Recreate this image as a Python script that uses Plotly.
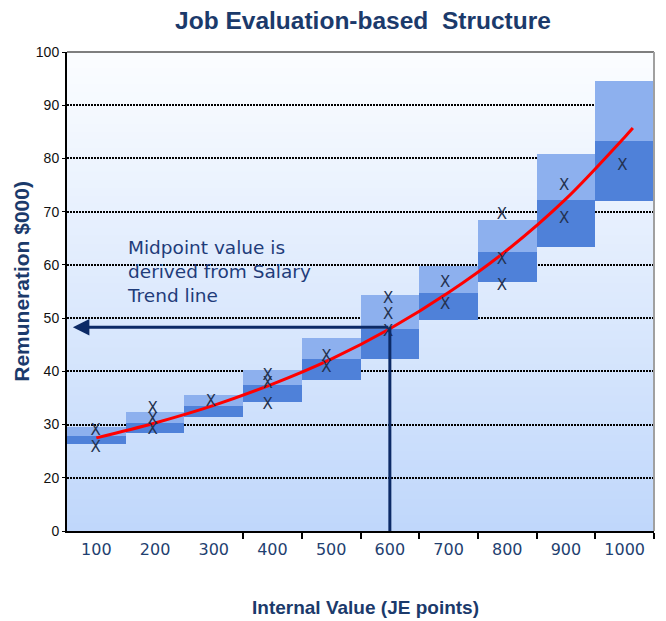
import plotly.graph_objects as go

# ---- data ----
grades = [100, 200, 300, 400, 500, 600, 700, 800, 900, 1000]
range_min = [26.3, 28.5, 31.5, 34.3, 38.4, 42.3, 49.7, 56.8, 63.4, 72.0]
range_mid = [27.9, 30.3, 33.4, 37.5, 42.4, 48.0, 54.8, 62.4, 72.1, 83.3]
range_max = [29.6, 32.4, 35.6, 40.3, 46.2, 54.4, 59.7, 68.4, 80.9, 94.6]

trend_x = [100, 200, 300, 400, 500, 600, 700, 800, 900, 1000, 1014]
trend_y = [27.5, 30.3, 33.6, 37.6, 42.3, 48.0, 54.8, 62.8, 72.4, 84.0, 85.7]

jobs_x = [99, 99, 196, 196, 196, 295, 392, 392, 392, 492, 492,
          597, 597, 597, 694, 694, 791, 791, 791, 897, 897, 996]
jobs_y = [28.8, 25.6, 32.8, 30.9, 28.9, 34.1, 39.0, 37.5, 33.7, 42.6, 40.5,
          53.5, 50.5, 47.3, 56.5, 52.5, 69.3, 60.8, 56.0, 74.8, 68.6, 78.5]

y_ticks = [10, 20, 30, 40, 50, 60, 70, 80, 90, 100]
y_labels = ["0", "20", "30", "40", "50", "60", "70", "80", "90", "100"]
x_labels = [str(g) for g in grades]
x_bounds = [350, 450, 550, 650, 750, 850, 950, 1050]

midpoint_grade = 600
midpoint_value = 48.3

navy = "#1b3a6b"
line_navy = "#0c2a66"

fig = go.Figure()

fig.add_trace(go.Bar(
    x=grades, y=[m - l for m, l in zip(range_mid, range_min)], base=range_min,
    width=100, marker=dict(color="#4f81d9", line=dict(width=0)),
    hoverinfo="skip", showlegend=False))
fig.add_trace(go.Bar(
    x=grades, y=[t - m for t, m in zip(range_max, range_mid)], base=range_mid,
    width=100, marker=dict(color="#8db0ee", line=dict(width=0)),
    hoverinfo="skip", showlegend=False))

fig.add_trace(go.Scatter(
    x=trend_x, y=trend_y, mode="lines", line=dict(color="#ff0000", width=3, shape="spline"),
    hoverinfo="skip", showlegend=False))

fig.add_trace(go.Scatter(
    x=jobs_x, y=jobs_y, mode="text", text=["X"] * len(jobs_x),
    textposition="middle center",
    textfont=dict(family="DejaVu Sans", size=15, color="#243250"),
    hoverinfo="skip", showlegend=False))

# background gradient
shapes = []
n = 60
top_c = (0xfb, 0xfd, 0xff)
bot_c = (0xc0, 0xd7, 0xfb)
for i in range(n):
    t = (i + 0.5) / n
    c = tuple(round(top_c[k] + (bot_c[k] - top_c[k]) * t) for k in range(3))
    shapes.append(dict(type="rect", xref="paper", yref="paper",
                       x0=0, x1=1, y1=1 - i / n, y0=1 - (i + 1) / n - 0.002,
                       fillcolor="rgb(%d,%d,%d)" % c, line=dict(width=0), layer="below"))
# frame: top and right in grey
shapes.append(dict(type="line", xref="paper", yref="paper", x0=0, x1=1, y0=1, y1=1,
                   line=dict(color="#7f7f7f", width=2), layer="above"))
shapes.append(dict(type="line", xref="paper", yref="paper", x0=1, x1=1, y0=0, y1=1,
                   line=dict(color="#a0a0a0", width=2), layer="above"))
# vertical drop line at the midpoint
shapes.append(dict(type="line", xref="x", yref="y", x0=midpoint_grade, x1=midpoint_grade,
                   y0=y_ticks[0], y1=midpoint_value,
                   line=dict(color=line_navy, width=3), layer="above"))

annotations = [
    dict(x=60, y=midpoint_value, ax=midpoint_grade, ay=midpoint_value,
         xref="x", yref="y", axref="x", ayref="y", text="", showarrow=True,
         arrowhead=2, arrowsize=1.1, arrowwidth=3, arrowcolor=line_navy),
    dict(x=149, y=58.7, xref="x", yref="y", xanchor="left", yanchor="middle",
         text="Midpoint value is<br>derived from Salary<br>Trend line", align="left",
         showarrow=False, font=dict(family="DejaVu Sans", size=18.5, color="#1f3c7a")),
    dict(x=-0.077, y=0.522, xref="paper", yref="paper", text="<b>Remuneration $000)</b>",
         textangle=-90, showarrow=False, xanchor="center", yanchor="middle",
         font=dict(family="Liberation Sans", size=21, color=navy)),
    dict(x=0.509, y=-0.159, xref="paper", yref="paper", text="<b>Internal Value (JE points)</b>",
         showarrow=False, xanchor="center", yanchor="middle",
         font=dict(family="Liberation Sans", size=19, color=navy)),
]

fig.update_layout(
    width=658, height=613, autosize=False,
    margin=dict(l=59, r=12, t=44, b=90),
    paper_bgcolor="white", plot_bgcolor="rgba(0,0,0,0)",
    barmode="overlay", bargap=0,
    title=dict(text="<b>Job Evaluation-based\u00a0 Structure</b>", x=0.5395, y=0.979,
               xref="container", yref="container", xanchor="center", yanchor="middle",
               font=dict(family="Liberation Sans", size=24.5, color=navy)),
    shapes=shapes, annotations=annotations,
    xaxis=dict(range=[50, 1050], tickmode="array", tickvals=grades, ticktext=x_labels,
               ticks="", showgrid=False, zeroline=False,
               showline=True, linecolor="black", linewidth=2,
               ticklabelstandoff=3,
               tickfont=dict(family="DejaVu Sans", size=16, color="#1f3f70"),
               minor=dict(tickmode="array", tickvals=x_bounds, ticks="outside",
                          ticklen=6, tickwidth=1.5, tickcolor="black", showgrid=False)),
    yaxis=dict(range=[10, 100], tickmode="array", tickvals=y_ticks, ticktext=y_labels,
               ticks="outside", ticklen=3, tickcolor="black",
               showgrid=True, gridcolor="black", gridwidth=2, griddash="2px,1px",
               zeroline=False, showline=True, linecolor="black", linewidth=2,
               tickfont=dict(family="Liberation Sans", size=14, color="#111111")),
)

fig.write_html("out.html")
